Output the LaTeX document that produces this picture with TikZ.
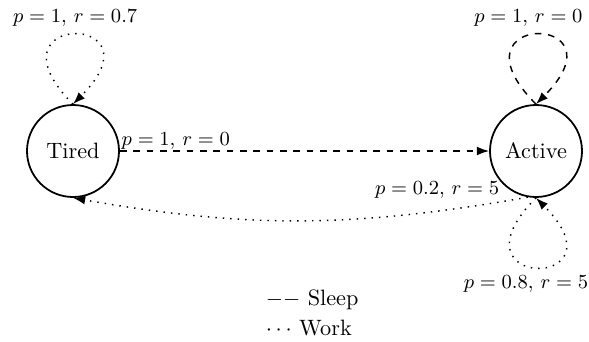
\documentclass[tikz,border=0pt]{standalone}
\usetikzlibrary{arrows.meta}
\begin{document}
\begin{tikzpicture}[x=0.45pt,y=-0.45pt,
  stnode/.style={circle,draw,thick,minimum size=41.4pt,inner sep=0pt},
  conn/.style={line width=0.65pt,-{Latex[length=5.5pt,width=4pt]}},
  dotline/.style={conn,dash pattern=on \pgflinewidth off 2.7pt},
  dashline/.style={conn,dash pattern=on 3pt off 3pt},
  lbl/.style={font=\small}]
\useasboundingbox (0,0) rectangle (589,341);
\node[stnode] (T) at (73,151) {Tired};
\node[stnode] (A) at (536,151) {Active};
% sleep edge
\draw[dashline] (T) -- node[lbl,pos=0,anchor=south west,inner sep=0.5pt] {$p=1$, $r=0$} (A);
% work edge back
\draw[dotline] (A.260) to[out=190,in=-10]
  node[lbl,pos=0.05,anchor=south east,inner sep=1pt] {$p=0.2$, $r=5$} (T.south);
% loops
\draw[dotline] (T.north) .. controls +(135:59pt) and +(45:59pt) ..
  node[lbl,above,xshift=1pt] {$p=1$, $r=0.7$} (T.north);
\draw[dashline] (A.north) .. controls +(135:59pt) and +(45:59pt) ..
  node[lbl,above,xshift=-3.4pt] {$p=1$, $r=0$} (A.north);
\draw[dotline] (A.south) .. controls +(-135:59pt) and +(-45:59pt) ..
  node[lbl,below,xshift=-4.5pt] {$p=0.8$, $r=5$} (A.south);
% legend
\node[anchor=base west] (l1) at (258,305) {$--$ Sleep};
\node[anchor=base west] (l2) at (258,335) {$\cdots$ Work};
\end{tikzpicture}
\end{document}
